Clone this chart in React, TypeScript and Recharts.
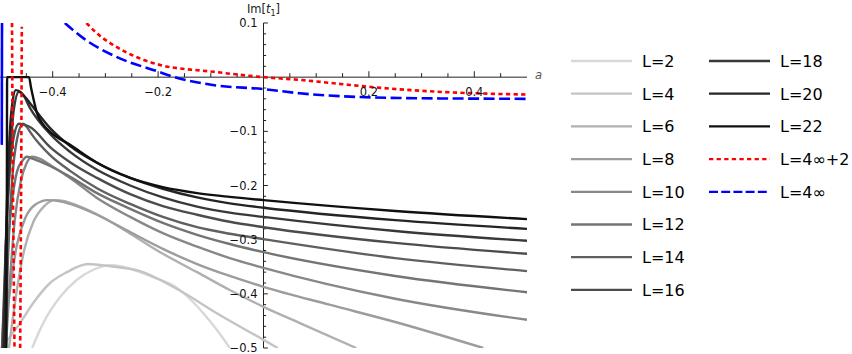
import React from 'react';
import { LineChart, Line, XAxis, YAxis, ReferenceLine } from 'recharts';

type Pt = [number, number];

// Im[t1] versus a, one list per L
const L2: Pt[] = [[-0.439, -0.5], [-0.418, -0.454], [-0.386, -0.406], [-0.354, -0.374], [-0.324, -0.356], [-0.291, -0.347], [-0.272, -0.349], [-0.21, -0.369], [-0.164, -0.389], [-0.139, -0.41], [-0.115, -0.435], [-0.089, -0.466], [-0.064, -0.5]];
const L4: Pt[] = [[-0.498, -0.5], [-0.462, -0.454], [-0.437, -0.417], [-0.405, -0.38], [-0.373, -0.36], [-0.333, -0.345], [-0.291, -0.349], [-0.234, -0.358], [-0.164, -0.391], [-0.083, -0.439], [0, -0.485], [0.027, -0.5]];
const L6: Pt[] = [[-0.483, -0.5], [-0.468, -0.393], [-0.454, -0.319], [-0.437, -0.268], [-0.416, -0.238], [-0.396, -0.227], [-0.377, -0.229], [-0.367, -0.232], [-0.316, -0.253], [-0.253, -0.289], [-0.191, -0.326], [-0.126, -0.36], [-0.064, -0.393], [0, -0.424], [0.069, -0.454], [0.176, -0.5]];
const L8: Pt[] = [[-0.494, -0.5], [-0.481, -0.393], [-0.468, -0.31], [-0.452, -0.26], [-0.434, -0.236], [-0.409, -0.227], [-0.386, -0.229], [-0.367, -0.234], [-0.316, -0.254], [-0.253, -0.286], [-0.191, -0.317], [-0.126, -0.345], [-0.064, -0.367], [0, -0.387], [0.125, -0.42], [0.25, -0.452], [0.417, -0.5]];
const L10: Pt[] = [[-0.489, -0.5], [-0.481, -0.374], [-0.472, -0.264], [-0.46, -0.19], [-0.45, -0.16], [-0.439, -0.147], [-0.424, -0.151], [-0.405, -0.162], [-0.367, -0.186], [-0.316, -0.223], [-0.253, -0.258], [-0.191, -0.288], [-0.126, -0.313], [-0.064, -0.334], [0, -0.352], [0.25, -0.409], [0.5, -0.448]];
const L12: Pt[] = [[-0.496, -0.5], [-0.489, -0.356], [-0.479, -0.245], [-0.468, -0.175], [-0.458, -0.155], [-0.449, -0.147], [-0.437, -0.151], [-0.405, -0.164], [-0.367, -0.184], [-0.316, -0.214], [-0.253, -0.243], [-0.191, -0.269], [-0.126, -0.291], [-0.064, -0.308], [0, -0.323], [0.25, -0.367], [0.5, -0.397]];
const L14: Pt[] = [[-0.49, -0.5], [-0.485, -0.337], [-0.477, -0.19], [-0.468, -0.116], [-0.456, -0.086], [-0.449, -0.092], [-0.443, -0.101], [-0.405, -0.144], [-0.367, -0.173], [-0.316, -0.205], [-0.253, -0.234], [-0.191, -0.258], [-0.126, -0.277], [-0.064, -0.289], [0, -0.299], [0.25, -0.334], [0.5, -0.358]];
const L16: Pt[] = [[-0.496, -0.5], [-0.49, -0.337], [-0.483, -0.19], [-0.475, -0.116], [-0.464, -0.086], [-0.454, -0.088], [-0.443, -0.092], [-0.405, -0.129], [-0.367, -0.157], [-0.316, -0.186], [-0.253, -0.216], [-0.191, -0.238], [-0.126, -0.254], [-0.064, -0.267], [0, -0.277], [0.25, -0.306], [0.5, -0.326]];
const L18: Pt[] = [[-0.494, -0.5], [-0.489, -0.319], [-0.481, -0.153], [-0.474, -0.061], [-0.464, -0.027], [-0.456, -0.033], [-0.443, -0.057], [-0.405, -0.105], [-0.367, -0.138], [-0.316, -0.171], [-0.253, -0.2], [-0.191, -0.222], [-0.126, -0.239], [-0.064, -0.25], [0, -0.258], [0.25, -0.284], [0.5, -0.302]];
const L20: Pt[] = [[-0.492, -0.5], [-0.489, -0.319], [-0.483, -0.134], [-0.477, -0.051], [-0.47, -0.024], [-0.462, -0.027], [-0.452, -0.037], [-0.443, -0.048], [-0.405, -0.094], [-0.367, -0.127], [-0.316, -0.158], [-0.253, -0.186], [-0.191, -0.206], [-0.126, -0.222], [-0.064, -0.233], [0, -0.241], [0.25, -0.264], [0.5, -0.28]];
const L22: Pt[] = [[-0.488, -0.5], [-0.487, -0.227], [-0.4865, 0], [-0.445, 0], [-0.441, -0.02], [-0.437, -0.038], [-0.43, -0.066], [-0.42, -0.085], [-0.405, -0.101], [-0.367, -0.125], [-0.316, -0.158], [-0.253, -0.186], [-0.191, -0.203], [-0.126, -0.214], [-0.064, -0.221], [0, -0.227], [0.25, -0.247], [0.5, -0.262]];

// L = 4∞+2 (red) and L = 4∞ (blue), with their near-vertical branches
const redMain: Pt[] = [[-0.336, 0.1], [-0.315, 0.08], [-0.291, 0.063], [-0.25, 0.041], [-0.196, 0.0225], [-0.095, 0.01], [0, 0], [0.069, -0.005], [0.164, -0.0144], [0.259, -0.0225], [0.354, -0.028], [0.5, -0.032]];
const redPoleA: Pt[] = [[-0.4772, 0.1], [-0.4757, -0.19], [-0.4725, -0.5]];
const redPoleB: Pt[] = [[-0.4617, -0.5], [-0.4598, -0.19], [-0.4586, 0.093]];
const blueMain: Pt[] = [[-0.377, 0.1], [-0.342, 0.072], [-0.278, 0.037], [-0.202, 0.011], [-0.172, 0.001], [-0.096, -0.0144], [0, -0.022], [0.069, -0.0298], [0.164, -0.036], [0.259, -0.0385], [0.38, -0.0395], [0.5, -0.04]];
const bluePole: Pt[] = [[-0.4966, -0.125], [-0.4962, 0.1]];

const names = ['L=2', 'L=4', 'L=6', 'L=8', 'L=10', 'L=12', 'L=14', 'L=16', 'L=18', 'L=20', 'L=22'];
const grays = ['#d8d8d8', '#c4c4c4', '#b0b0b0', '#9c9c9c', '#888888', '#747474', '#606060', '#4c4c4c', '#383838', '#242424', '#101010'];
const lists = [L2, L4, L6, L8, L10, L12, L14, L16, L18, L20, L22];

const xTicks = [-0.45, -0.4, -0.35, -0.3, -0.25, -0.2, -0.15, -0.1, -0.05, 0.05, 0.1, 0.15, 0.2, 0.25, 0.3, 0.35, 0.4, 0.45];
const xLabels = [-0.4, -0.2, 0.2, 0.4];
const yTicks = [0.1, 0.08, 0.06, 0.04, 0.02, -0.02, -0.04, -0.06, -0.08, -0.1, -0.12, -0.14, -0.16, -0.18, -0.2, -0.22, -0.24, -0.26, -0.28, -0.3, -0.32, -0.34, -0.36, -0.38, -0.4, -0.42, -0.44, -0.46, -0.48, -0.5];
const yLabels = [0.1, -0.1, -0.2, -0.3, -0.4, -0.5];

const RED = '#ff0000';
const BLUE = '#0000ff';
const AXIS = '#222';
const FONT = '"DejaVu Sans", Arial, sans-serif';

const toRows = (pts: Pt[]) => pts.map(([x, y]) => ({ x, y }));
const fmt = (v: number) => (v < 0 ? '\u2212' : '') + Math.abs(v).toFixed(1);
const isLabelled = (v: number, list: number[]) => list.some((l) => Math.abs(l - v) < 1e-9);

const legendItems = [
  ...names.map((n, i) => ({ name: n, color: grays[i], dash: undefined as string | undefined })),
  { name: 'L=4\u221e+2', color: RED, dash: '4.3 3.3' },
  { name: 'L=4\u221e', color: BLUE, dash: '9 3.2' },
];

function Legend2Col() {
  return (
    <svg width={852} height={354} style={{ position: 'absolute', left: 0, top: 0, pointerEvents: 'none' }}>
      {legendItems.map((it, i) => {
        const col = i < 8 ? 0 : 1;
        const row = col === 0 ? i : i - 8;
        const x0 = col === 0 ? 571 : 709;
        const cy = 61 + row * 32.7;
        return (
          <g key={it.name}>
            <line x1={x0} x2={x0 + 61} y1={cy} y2={cy} stroke={it.color} strokeWidth={2.3} strokeDasharray={it.dash} />
            <text x={x0 + 71} y={cy + 5.8} fontFamily={FONT} fontSize={16} fill="#000">{it.name}</text>
          </g>
        );
      })}
    </svg>
  );
}

export default function App() {
  return (
    <div style={{ position: 'absolute', left: 0, top: 0, width: 852, height: 354, background: '#fff' }}>
      <LineChart width={852} height={354} margin={{ top: 23, right: 325, bottom: 6, left: 0 }}>
        <XAxis type="number" dataKey="x" domain={[-0.5, 0.5]} allowDataOverflow hide />
        <YAxis type="number" dataKey="y" domain={[-0.5, 0.1]} allowDataOverflow hide />

        {/* axes through the origin */}
        <ReferenceLine
          segment={[{ x: -0.5, y: 0 }, { x: 0.5, y: 0 }]}
          stroke={AXIS}
          strokeWidth={1}
          label={(p: any) => (
            <text x={p.viewBox.x + p.viewBox.width + 8} y={p.viewBox.y + 2} fontFamily={FONT} fontSize={11.5} fontStyle="italic" fill="#555">a</text>
          )}
        />
        <ReferenceLine
          segment={[{ x: 0, y: -0.5 }, { x: 0, y: 0.1 }]}
          stroke={AXIS}
          strokeWidth={1}
          label={(p: any) => (
            <text x={p.viewBox.x} y={p.viewBox.y - 10} textAnchor="middle" fontFamily={FONT} fontSize={11.5} fill="#222">
              Im[<tspan fontStyle="italic">t</tspan><tspan fontSize={8} dy={3}>1</tspan><tspan dy={-3}>]</tspan>
            </text>
          )}
        />
        {xTicks.map((t) => {
          const major = isLabelled(t, xLabels);
          return (
            <ReferenceLine
              key={'xt' + t}
              segment={[{ x: t, y: 0 }, { x: t, y: major ? 0.011 : 0.0074 }]}
              stroke={AXIS}
              strokeWidth={1}
              label={major ? { value: fmt(t), position: 'bottom', offset: 11, fill: '#111', fontSize: 11.5, fontFamily: FONT } : undefined}
            />
          );
        })}
        {yTicks.map((t) => {
          const major = isLabelled(t, yLabels);
          return (
            <ReferenceLine
              key={'yt' + t}
              segment={[{ x: 0, y: t }, { x: major ? 0.0082 : 0.005, y: t }]}
              stroke={AXIS}
              strokeWidth={1}
              label={major ? { value: fmt(t), position: 'left', offset: 6, fill: '#111', fontSize: 11.5, fontFamily: FONT } : undefined}
            />
          );
        })}

        {lists.map((pts, i) => (
          <Line key={names[i]} data={toRows(pts)} dataKey="y" type="monotone" stroke={grays[i]} strokeWidth={2.4} dot={false} activeDot={false} isAnimationActive={false} />
        ))}

        <Line data={toRows(redMain)} dataKey="y" type="monotone" stroke={RED} strokeWidth={2.6} strokeDasharray="4.3 3.3" dot={false} activeDot={false} isAnimationActive={false} />
        <Line data={toRows(redPoleA)} dataKey="y" type="linear" stroke={RED} strokeWidth={2.6} strokeDasharray="4.3 3.3" dot={false} activeDot={false} isAnimationActive={false} />
        <Line data={toRows(redPoleB)} dataKey="y" type="linear" stroke={RED} strokeWidth={2.6} strokeDasharray="4.3 3.3" dot={false} activeDot={false} isAnimationActive={false} />
        <Line data={toRows(blueMain)} dataKey="y" type="monotone" stroke={BLUE} strokeWidth={2.6} strokeDasharray="11 4.5" dot={false} activeDot={false} isAnimationActive={false} />
        <Line data={toRows(bluePole)} dataKey="y" type="linear" stroke={BLUE} strokeWidth={2.6} dot={false} activeDot={false} isAnimationActive={false} />
      </LineChart>
      <Legend2Col />
    </div>
  );
}
